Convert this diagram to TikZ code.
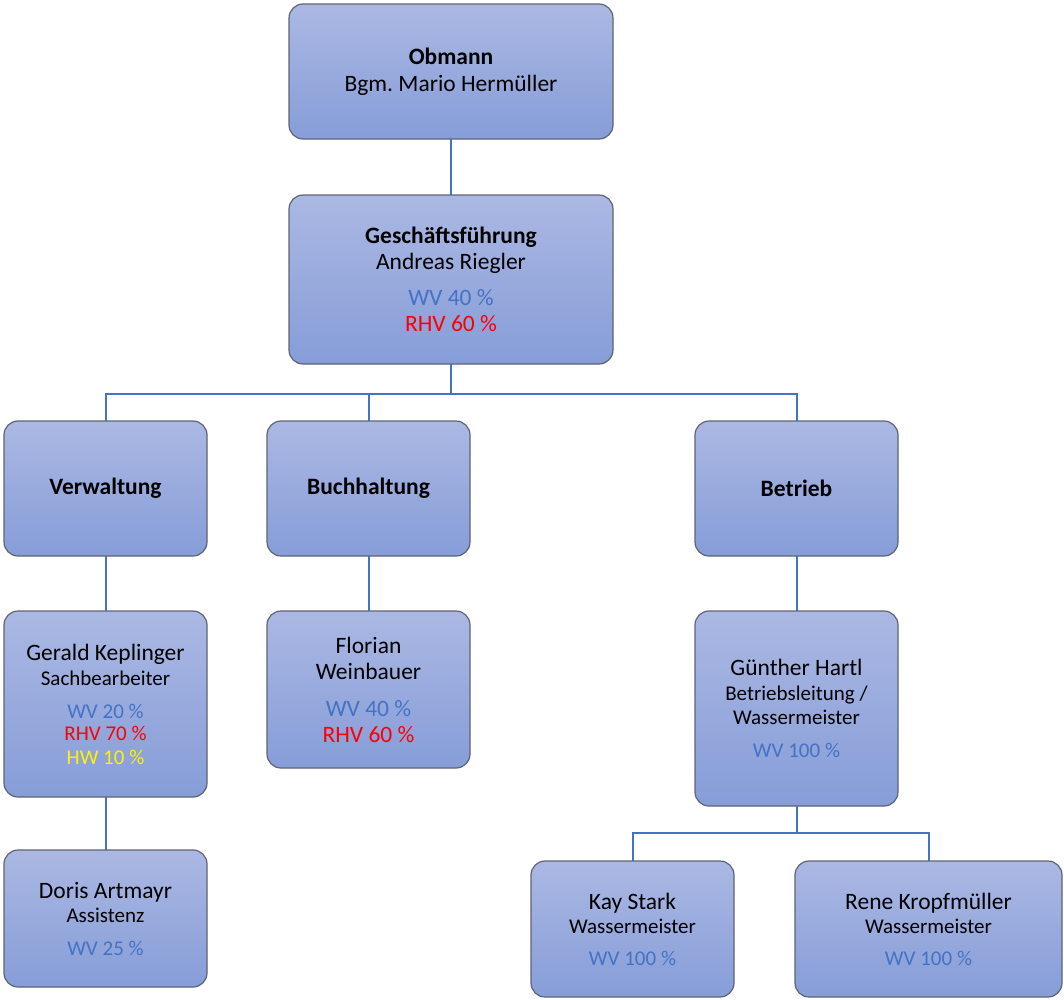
\documentclass[tikz,border=0pt]{standalone}
\usepackage{fontspec}
\setmainfont{Carlito}
\frenchspacing
\definecolor{boxtop}{RGB}{171,184,227}
\definecolor{boxbot}{RGB}{134,157,216}
\definecolor{boxline}{RGB}{95,100,115}
\definecolor{wvblue}{RGB}{68,114,196}
\newcommand{\wvpct}[1]{\textcolor{wvblue}{WV #1 \%}}
\newcommand{\rhvpct}[1]{\textcolor{red}{RHV #1 \%}}
\newcommand{\rolefont}{\fontsize{21}{24}\selectfont}
\newcommand{\pctfont}{\fontsize{21}{24}\selectfont}
\begin{document}
\begin{tikzpicture}[x=1pt,y=-1pt,
  every node/.style={inner sep=0pt,outer sep=0pt},
  orgbox/.style={draw=boxline,line width=1.2pt,rounded corners=14pt,
    top color=boxtop,bottom color=boxbot,align=center,
    font=\fontsize{23.5}{24}\selectfont,minimum width=203pt},
  link/.style={draw=wvblue,line width=2pt}]
\useasboundingbox (0,0) rectangle (1064,999);
% top
\node[orgbox,minimum width=324pt,minimum height=135pt]at(451,71.5)(ob)
  {\textbf{Obmann}\\[3pt]Bgm. Mario Hermüller};
\node[orgbox,minimum width=324pt,minimum height=169pt]at(451,279.5)(gf)
  {\textbf{Geschäftsführung}\\[2pt]Andreas Riegler\\[12pt]\wvpct{40}\\[2pt]\rhvpct{60}};
% departments
\node[orgbox,minimum height=135pt]at(105.5,488.5)(verw){\textbf{Verwaltung}};
\node[orgbox,minimum height=135pt]at(368.5,488.5)(buch){\textbf{Buchhaltung}};
\node[orgbox,minimum height=135pt]at(796.5,488.5)(betr){\textbf{Betrieb}};
% staff
\node[orgbox,minimum height=186pt]at(105.5,704)(gerald)
  {Gerald Keplinger\\[1pt]{\rolefont Sachbearbeiter}\\[9pt]
  {\pctfont\wvpct{20}}\\[-2pt]
  {\pctfont\rhvpct{70}}\\[0pt]
  {\pctfont\textcolor{yellow}{HW 10 \%}}};
\node[orgbox,minimum height=137pt]at(105.5,918.5)(doris)
  {Doris Artmayr\\[0pt]{\rolefont Assistenz}\\[9pt]{\pctfont\wvpct{25}}};
\node[orgbox,minimum height=157pt]at(368.5,689.5)(florian)
  {Florian\\[2pt]Weinbauer\\[13pt]\wvpct{40}\\[2pt]\rhvpct{60}};
\node[orgbox,minimum height=195pt]at(796.5,708.5)(guenther)
  {Günther Hartl\\[1pt]{\rolefont Betriebsleitung /}\\[0pt]{\rolefont Wassermeister}\\[9pt]
  {\pctfont\wvpct{100}}};
\node[orgbox,minimum height=136pt]at(632.5,929)(kay)
  {Kay Stark\\[0pt]{\rolefont Wassermeister}\\[8pt]{\pctfont\wvpct{100}}};
\node[orgbox,minimum width=267pt,minimum height=136pt]at(928.5,929)(rene)
  {Rene Kropfmüller\\[0pt]{\rolefont Wassermeister}\\[8pt]{\pctfont\wvpct{100}}};
% connectors
\coordinate (split1) at (451,394);
\coordinate (split2) at (796.5,833);
\draw[link](ob)--(gf);
\draw[link](gf)--(split1);
\draw[link](split1)-|(verw.north);
\draw[link](split1)-|(buch.north);
\draw[link](split1)-|(betr.north);
\draw[link](verw)--(gerald);
\draw[link](gerald)--(doris);
\draw[link](buch)--(florian);
\draw[link](betr)--(guenther);
\draw[link](guenther)--(split2);
\draw[link](split2)-|(kay.north);
\draw[link](split2)-|(rene.north);
\end{tikzpicture}
\end{document}
